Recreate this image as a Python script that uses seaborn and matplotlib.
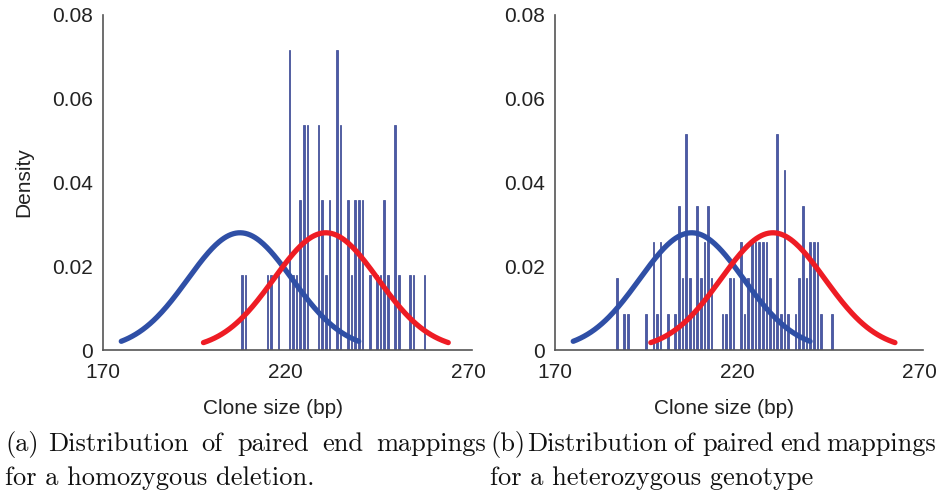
import numpy as np
import pandas as pd
import matplotlib
matplotlib.use("Agg")
import matplotlib.pyplot as plt
from matplotlib.textpath import TextPath
from matplotlib.font_manager import FontProperties
import seaborn as sns

# ---------------- data ----------------
# (a) homozygous deletion: bin centre (bp) and count in that 1-bp bin
left_bins = [208, 209, 215, 216, 218, 221, 222, 223, 224, 225, 226, 229, 230,
             231, 232, 234, 235, 237, 238, 239, 240, 241, 243, 245, 246, 247,
             248, 250, 251, 254, 255, 258]
left_counts = [1, 1, 1, 1, 1, 4, 1, 1, 2, 3, 3, 3, 2,
               1, 2, 4, 3, 2, 1, 2, 2, 2, 1, 1, 1, 2,
               1, 3, 1, 1, 1, 1]
left_unit = 0.0179          # density of one count

# (b) heterozygous genotype
right_bins = [187, 189, 190, 195, 197, 198, 199, 201, 203, 204, 205, 206, 207,
              208, 209, 210, 211, 212, 213, 216, 217, 218, 219, 221, 222, 223,
              224, 225, 226, 227, 228, 229, 230, 231, 232, 233, 234, 236, 237,
              238, 239, 240, 241, 242, 243, 246]
right_counts = [2, 1, 1, 1, 3, 1, 3, 1, 1, 4, 2, 6, 2,
                1, 4, 2, 3, 4, 2, 1, 1, 2, 2, 3, 1, 2,
                3, 3, 3, 3, 3, 2, 1, 6, 1, 5, 1, 1, 2,
                4, 2, 3, 3, 3, 1, 1]
right_unit = 0.0086

# fitted normal curves: (mean, sd, half-span) in bp
left_blue = (207.5, 14.25, 32.5)
left_red = (231.0, 14.25, 33.5)
right_blue = (207.5, 14.25, 32.5)
right_red = (229.8, 14.25, 33.5)

x_ticks = [170, 220, 270]
y_ticks = [0, 0.02, 0.04, 0.06, 0.08]
y_tick_labels = ["0", "0.02", "0.04", "0.06", "0.08"]
x_label = "Clone size (bp)"
y_label = "Density"
cap_a = ["(a) Distribution of paired end mappings", "for a homozygous deletion."]
cap_b = ["(b) Distribution of paired end mappings", "for a heterozygous genotype"]

# ---------------- style ----------------
sns.set_style("white")
plt.rcParams["font.family"] = ["Liberation Sans", "DejaVu Sans"]

BAR = "#4b5aa8"
BAR_EDGE = "#34428f"
BLUE = "#2f4fa6"
RED = "#ee1c24"
AX = "#555555"

W, H = 939, 494
fig = plt.figure(figsize=(W / 100, H / 100), dpi=100)
ax1 = fig.add_axes([103 / W, 1 - 350 / H, 369 / W, 335 / H])
ax2 = fig.add_axes([555 / W, 1 - 350 / H, 368 / W, 335 / H])


def curve(params):
    m, s, h = params
    xs = np.linspace(m - h, m + h, 200)
    ys = np.exp(-0.5 * ((xs - m) / s) ** 2) / (s * np.sqrt(2 * np.pi))
    return pd.DataFrame({"x": xs, "y": ys})


def panel(ax, bins, counts, unit, blue, red, ylab):
    df = pd.DataFrame({"x": bins, "w": np.array(counts) * unit})
    sns.histplot(data=df, x="x", weights="w", discrete=True, stat="count",
                 shrink=0.45, color=BAR, edgecolor=BAR_EDGE, linewidth=0.5,
                 alpha=1.0, ax=ax)
    for params, col in ((blue, BLUE), (red, RED)):
        c = curve(params)
        sns.lineplot(data=c, x="x", y="y", color=col, linewidth=3.8, ax=ax,
                     solid_capstyle="round")
    ax.set_xlim(170, 271)
    ax.set_ylim(0, 0.08)
    ax.set_xticks(x_ticks)
    ax.set_xticklabels([str(t) for t in x_ticks])
    ax.set_yticks(y_ticks)
    ax.set_yticklabels(y_tick_labels)
    for s in ("top", "right"):
        ax.spines[s].set_visible(False)
    for s in ("left", "bottom"):
        ax.spines[s].set_color(AX)
        ax.spines[s].set_linewidth(1.2)
    ax.tick_params(axis="both", direction="in", length=3, color=AX,
                   labelsize=15, labelcolor="#222222")
    ax.tick_params(axis="x", pad=9, length=0)
    ax.tick_params(axis="y", pad=7)
    ax.set_xlabel(x_label, fontsize=15, color="#222222")
    ax.xaxis.set_label_coords(0.46, -0.145)
    if ylab:
        ax.set_ylabel(y_label, fontsize=15, color="#222222")
        ax.yaxis.set_label_coords(-0.19, 0.5)
    else:
        ax.set_ylabel("")


panel(ax1, left_bins, left_counts, left_unit, left_blue, left_red, True)
panel(ax2, right_bins, right_counts, right_unit, right_blue, right_red, False)

# ---------------- captions (serif, TeX-like, first lines justified) ----------
CAP_FAM = ["cmr10", "DejaVu Serif"]
CAP_SIZE = 19
cap_font = dict(family=CAP_FAM, fontsize=CAP_SIZE, color="#111111",
                va="baseline", ha="left")
fp = FontProperties(family=CAP_FAM, size=CAP_SIZE)


def word_width_px(word):
    tp = TextPath((0, 0), word, prop=fp)
    # TextPath units are points; convert to pixels at 100 dpi
    return tp.get_extents().width * 100 / 72 + 2.0


def justified(line, x0, x1, ybase):
    words = line.split(" ")
    widths = [word_width_px(w) for w in words]
    gap = (x1 - x0 - sum(widths)) / (len(words) - 1)
    x = x0
    for w, wd in zip(words, widths):
        fig.text(x / W, 1 - ybase / H, w, **cap_font)
        x += wd + gap


justified(cap_a[0], 5, 487, 451)
fig.text(5 / W, 1 - 485 / H, cap_a[1], **cap_font)
justified(cap_b[0], 490, 937, 451)
fig.text(490 / W, 1 - 485 / H, cap_b[1], **cap_font)

fig.savefig("out.png", dpi=100)
